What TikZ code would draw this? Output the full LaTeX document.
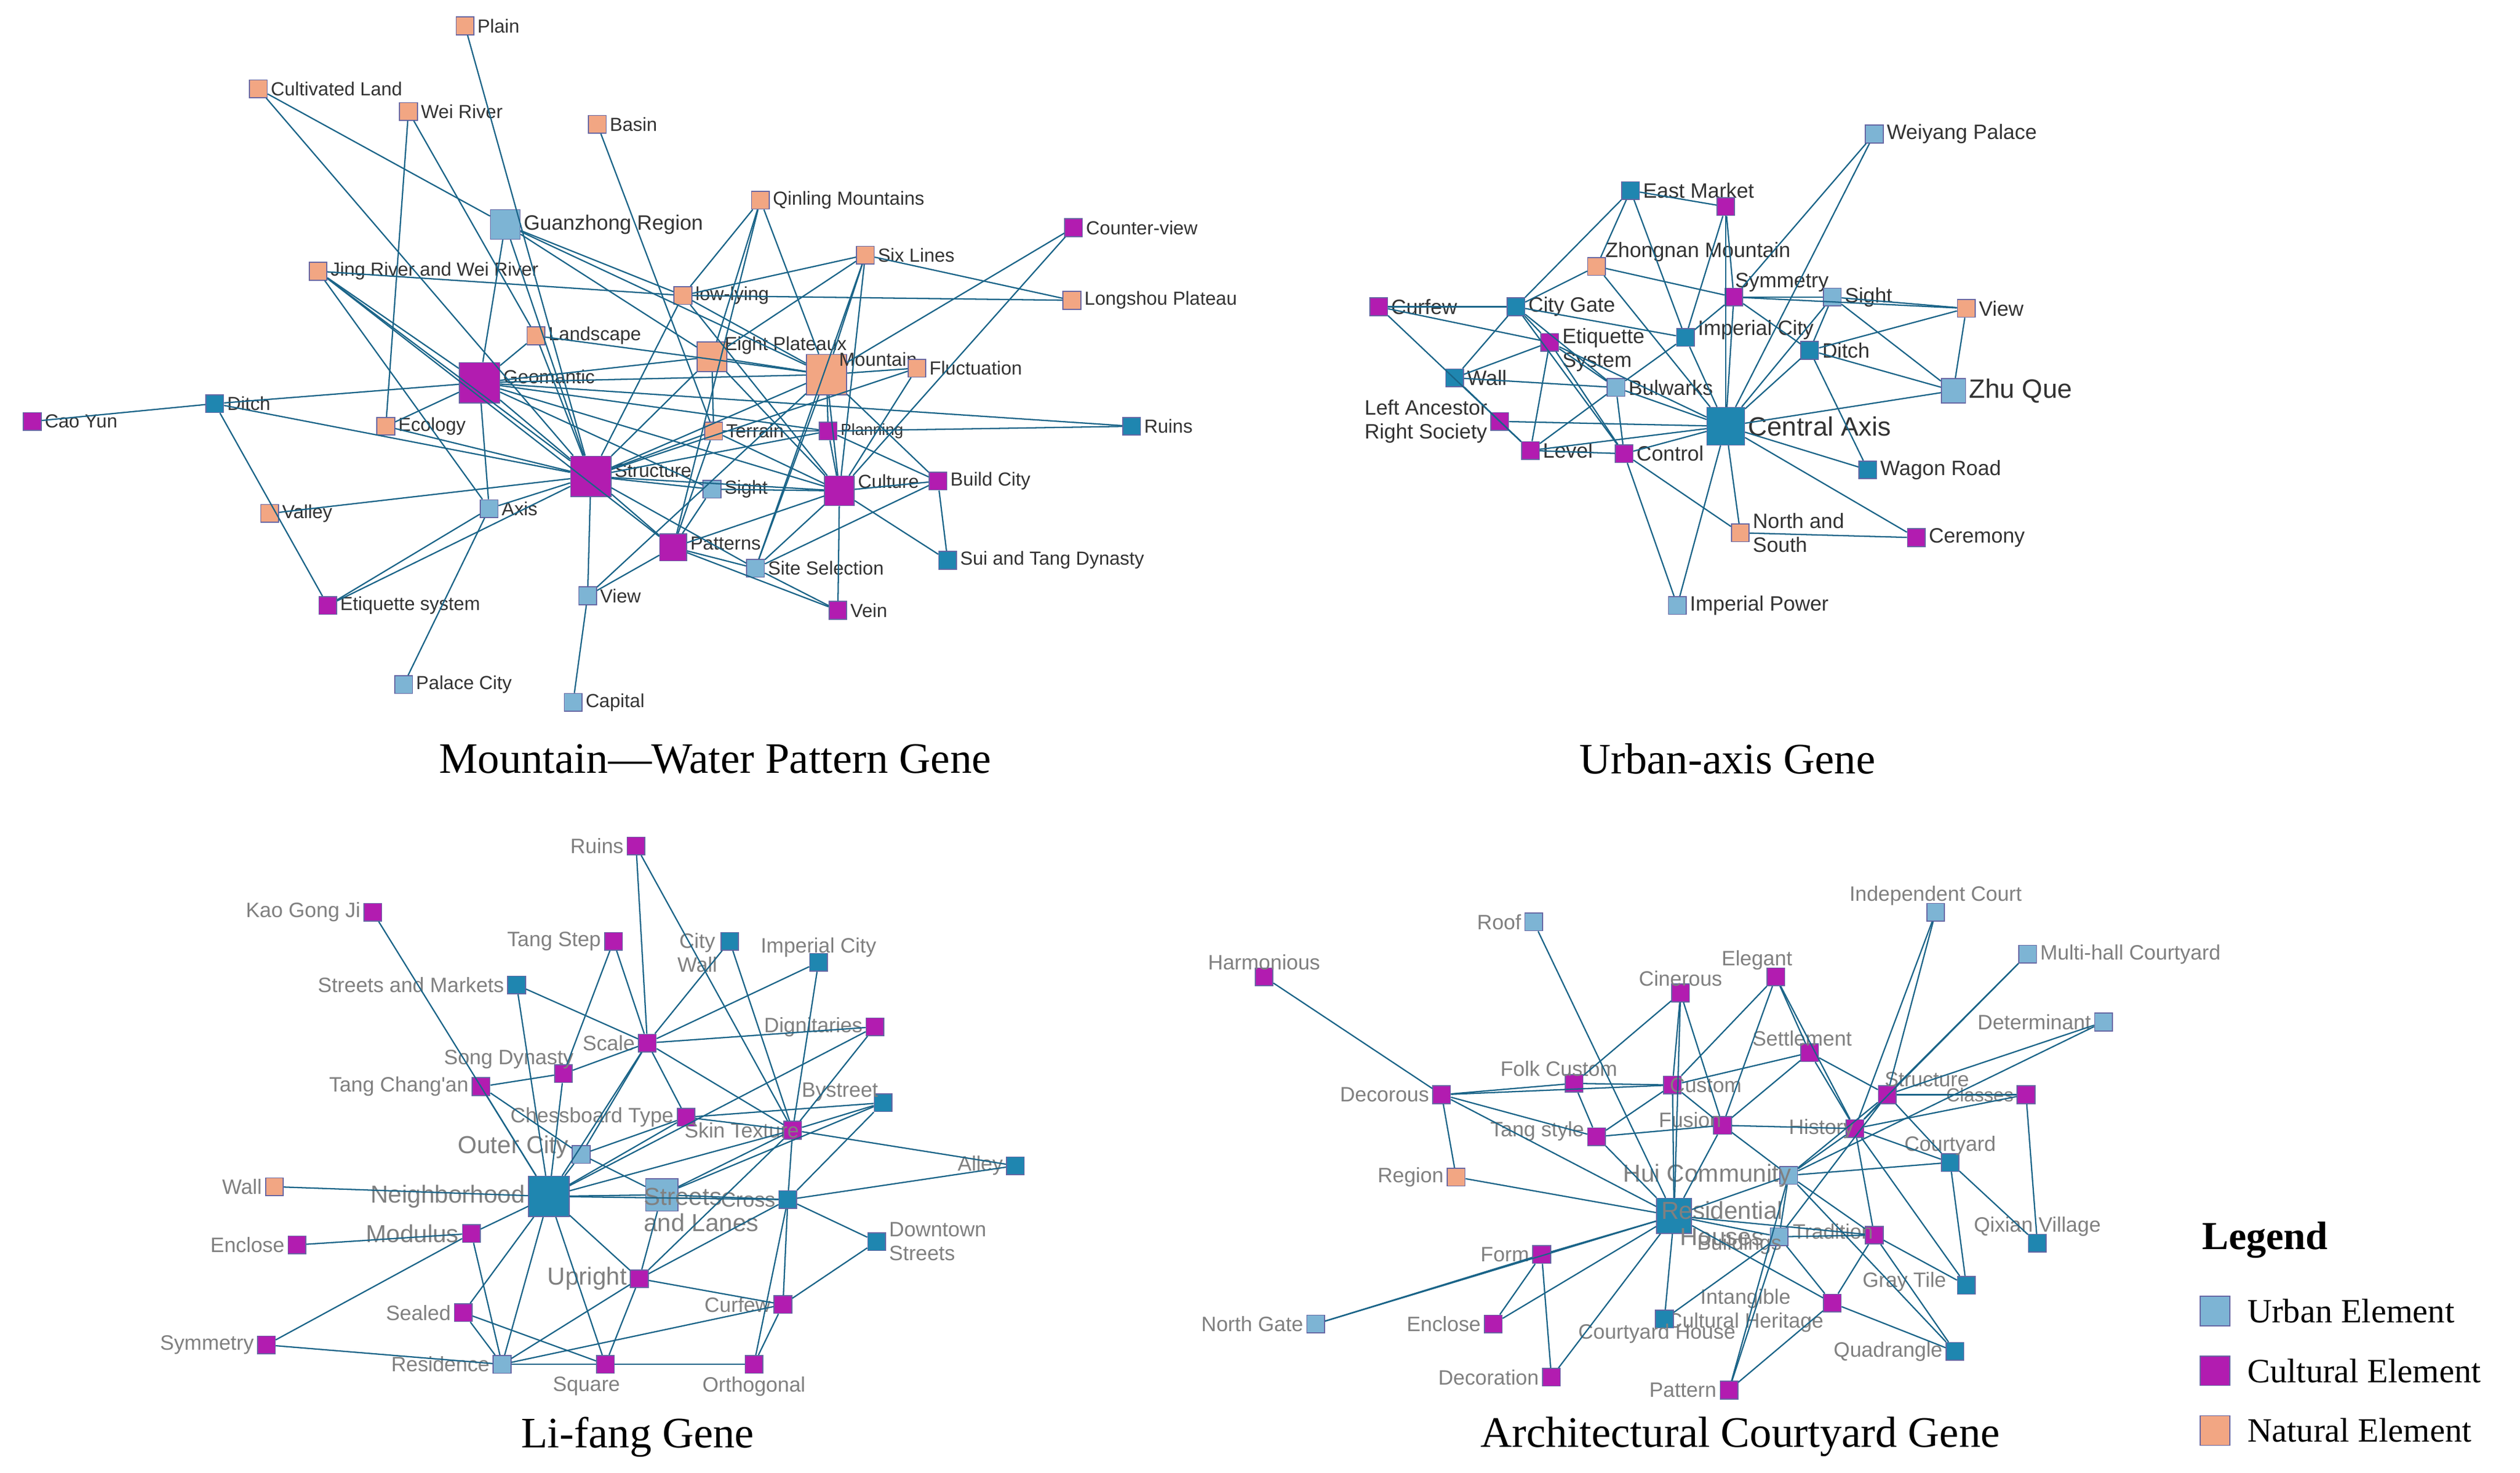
\documentclass[tikz,border=0pt]{standalone}
\usepackage{fontspec}
\setmainfont{Liberation Serif}
\newfontfamily\lab{Liberation Sans}
\begin{document}
\begin{tikzpicture}[x=0.03cm,y=-0.03cm,
 nd/.style={rectangle,draw=black!60!blue!60,line width=0.5pt,minimum size=0.33cm,inner sep=0pt},
 u/.style={nd,fill=ulight}, ud/.style={nd,fill=udark}, c/.style={nd,fill=cult}, n/.style={nd,fill=nat},
 big/.style={minimum size=0.6cm}, huge/.style={minimum size=0.75cm},
 lb/.style={font=\lab\fontsize{10}{11}\selectfont,inner sep=1.5pt,text=black!80,align=left},
 lg/.style={font=\lab\fontsize{11}{12.5}\selectfont,inner sep=1.5pt,text=black!50,align=left},
 ed/.style={draw=edgec,line width=0.7pt},
 ttl/.style={font=\fontsize{23}{26}\selectfont}]
\definecolor{ulight}{HTML}{7DB4D4}
\definecolor{udark}{HTML}{1F86B0}
\definecolor{cult}{HTML}{B21CB0}
\definecolor{nat}{HTML}{F2A683}
\definecolor{edgec}{HTML}{1A6488}
\useasboundingbox (0,0) rectangle (1561,912);
\fill[white] (0,0) rectangle (1561,912);
% ---------- Panel 1
\begin{scope}[every label/.style={lb}]
\node[n,label=right:Plain] (pl) at (288,16) {};
\node[n,label=right:Cultivated Land] (cl) at (160,55) {};
\node[n,label=right:Wei River] (wr) at (253,69) {};
\node[n,label=right:Basin] (ba) at (370,77) {};
\node[u,minimum size=0.55cm,label={[lb,font=\lab\fontsize{11}{12}\selectfont]right:Guanzhong Region}] (gz) at (313,139) {};
\node[n,label=right:Qinling Mountains] (qm) at (471,124) {};
\node[c,label=right:Counter-view] (cv) at (665,141) {};
\node[n,label=right:Six Lines] (sl) at (536,158) {};
\node[n,label=right:Longshou Plateau] (lp) at (664,186) {};
\node[n,label=right:Jing River and Wei River] (jw) at (197,168) {};
\node[n,label=right:low-lying] (ll) at (423,183) {};
\node[n,label=right:Landscape] (la) at (332,208) {};
\node[n,minimum size=0.55cm,label={[lb,yshift=6pt,xshift=-3pt]right:Eight Plateaux}] (ep) at (441,221) {};
\node[n,huge,label={[lb,yshift=8pt,xshift=-6pt]right:Mountain}] (mo) at (512,232) {};
\node[n,label=right:Fluctuation] (fl) at (568,228) {};
\node[c,huge,label={[lb,yshift=3pt]right:Geomantic}] (ge) at (297,237) {};
\node[ud,label=right:Ditch] (di) at (133,250) {};
\node[c,label=right:Cao Yun] (cy) at (20,261) {};
\node[n,label=right:Ecology] (ec) at (239,264) {};
\node[n,label=right:Terrain] (te) at (442,267) {};
\node[c,label={[lb,font=\lab\fontsize{8.5}{10}\selectfont]right:Planning}] (pn) at (513,267) {};
\node[ud,label=right:Ruins] (ru) at (701,264) {};
\node[c,huge,label={[lb,yshift=3pt]right:Structure}] (st) at (366,295) {};
\node[c,minimum size=0.55cm,label={[lb,yshift=5pt]right:Culture}] (cu) at (520,304) {};
\node[c,label=right:Build City] (bc) at (581,298) {};
\node[u,label=right:Sight] (si) at (441,303) {};
\node[u,label=right:Axis] (ax) at (303,315) {};
\node[n,label=right:Valley] (va) at (167,318) {};
\node[c,minimum size=0.5cm,label={[lb,yshift=2pt]right:Patterns}] (pa) at (417,339) {};
\node[u,label=right:Site Selection] (ss) at (468,352) {};
\node[ud,label=right:Sui and Tang Dynasty] (stt) at (587,347) {};
\node[u,label=right:View] (vi) at (364,369) {};
\node[c,label=right:Etiquette system] (es) at (203,375) {};
\node[c,label=right:Vein] (ve) at (519,378) {};
\node[u,label=right:Palace City] (pc) at (250,424) {};
\node[u,label=right:Capital] (ca) at (355,435) {};
\end{scope}
\foreach \a/\b in {pl/st,cl/gz,cl/st,wr/la,wr/ec,ba/te,gz/ge,gz/st,gz/mo,gz/ep,gz/ll,qm/ll,qm/ep,qm/mo,qm/pa,cv/mo,cv/cu,sl/mo,sl/ep,sl/ll,sl/lp,sl/cu,sl/ss,lp/ll,jw/ge,jw/st,jw/ll,jw/ax,jw/pa,ll/mo,ll/st,ll/cu,la/ge,la/mo,la/st,ep/mo,ep/ge,ep/st,ep/cu,ep/te,mo/ge,mo/st,mo/cu,mo/fl,mo/pn,mo/bc,mo/ss,ru/ge,ru/pn,fl/st,fl/cu,ge/di,ge/st,ge/ax,ge/cu,ge/pn,ge/ec,ge/si,di/cy,di/st,di/es,ec/st,te/st,te/pa,pn/st,pn/cu,pn/bc,st/cu,st/pa,st/si,st/ax,st/va,st/vi,st/es,st/ss,cu/bc,cu/pa,cu/ve,cu/ss,cu/stt,cu/si,bc/stt,bc/ss,si/pa,ax/pc,ax/es,pa/ve,pa/ss,pa/vi,vi/ca,vi/mo,ss/ve,te/cu,te/pn}
  \draw[ed] (\a) -- (\b);
\node[ttl] (t1) at (443,470) {Mountain—Water Pattern Gene};
% ---------- Panel 2
\begin{scope}[every label/.style={lg,text=black!80}]
\node[u,label=right:Weiyang Palace] (wp) at (1161,83) {};
\node[ud,label=right:East Market] (em) at (1010,118) {};
\node[c] (mg) at (1069,128) {};
\node[n,label={[lg,text=black!80,xshift=-2pt,yshift=-4pt]above right:Zhongnan Mountain}] (zm) at (989,165) {};
\node[c,label={[lg,text=black!80,xshift=-6pt,yshift=-4pt]above right:Symmetry}] (sy) at (1074,184) {};
\node[c,label=right:Curfew] (cf) at (854,190) {};
\node[ud,label=right:City Gate] (cg) at (939,190) {};
\node[u,label=right:Sight] (sg) at (1135,184) {};
\node[n,label=right:View] (vw) at (1218,191) {};
\node[c,label={[lg,text=black!80,yshift=-4pt]right:Etiquette\\System}] (et) at (960,212) {};
\node[ud,label={[lg,text=black!80,yshift=4pt]right:Imperial City}] (ic) at (1044,209) {};
\node[ud,label=right:Ditch] (dt) at (1121,217) {};
\node[ud,label=right:Wall] (wl) at (901,234) {};
\node[u,label=right:Bulwarks] (bw) at (1001,240) {};
\node[u,minimum size=0.45cm,label={[lg,text=black!80,font=\lab\fontsize{14}{15}\selectfont]right:Zhu Que}] (zq) at (1210,242) {};
\node[c,label={[lg,text=black!80]left:Left Ancestor\\Right Society}] (la2) at (929,261) {};
\node[ud,minimum size=0.7cm,label={[lg,text=black!80,font=\lab\fontsize{14}{15}\selectfont]right:Central Axis}] (ca2) at (1069,264) {};
\node[c,label=right:Level] (lv) at (948,279) {};
\node[c,label=right:Control] (co) at (1006,281) {};
\node[ud,label=right:Wagon Road] (wg) at (1157,291) {};
\node[n,label=right:North and\\South] (ns) at (1078,330) {};
\node[c,label=right:Ceremony] (ce) at (1187,333) {};
\node[u,label=right:Imperial Power] (ip) at (1039,375) {};
\end{scope}
\foreach \a/\b in {wp/ca2,wp/sy,em/mg,em/cg,em/ic,em/zm,mg/sy,mg/ca2,mg/ic,zm/sy,zm/cg,zm/ca2,sy/sg,sy/ic,sy/ca2,sy/dt,sy/vw,cf/cg,cf/et,cf/lv,cg/wl,cg/bw,cg/et,cg/ic,cg/co,sg/vw,sg/dt,sg/zq,sg/ca2,vw/zq,vw/dt,et/bw,et/lv,et/co,et/ca2,et/wl,ic/ca2,ic/bw,dt/ca2,dt/zq,dt/wg,wl/bw,wl/lv,bw/ca2,bw/co,la2/lv,la2/ca2,ca2/lv,ca2/co,ca2/wg,ca2/ns,ca2/ce,ca2/ip,ca2/zq,co/ns,co/lv,ns/ce,lv/bw,ip/co}
  \draw[ed] (\a) -- (\b);
\node[ttl] (t2) at (1070,470) {Urban-axis Gene};
% ---------- Panel 3
\begin{scope}[every label/.style={lg}]
\node[c,label=left:Ruins] (r3) at (394,524) {};
\node[c,label=left:Kao Gong Ji] (kg) at (231,565) {};
\node[c,label=left:Tang Step] (ts) at (380,583) {};
\node[ud,label={[lg,align=center,yshift=-6pt]left:City\\Wall}] (cw) at (452,583) {};
\node[ud,label={[lg,yshift=-4pt]above:Imperial City}] (ic3) at (507,596) {};
\node[ud,label=left:Streets and Markets] (sm) at (320,610) {};
\node[c,label=left:Dignitaries] (dg) at (542,636) {};
\node[c,label=left:Scale] (sc) at (401,646) {};
\node[c,label={[lg,xshift=12pt,yshift=-4pt]above left:Song Dynasty}] (sd) at (349,665) {};
\node[c,label=left:Tang Chang'an] (tc) at (298,673) {};
\node[ud,label={[lg,xshift=4pt,yshift=-6pt]above left:Bystreet}] (bs) at (547,683) {};
\node[c,label=left:Chessboard Type] (ch) at (425,692) {};
\node[c,label={[lg,xshift=10pt]left:Skin Texture}] (sk) at (491,700) {};
\node[u,label={[lg,font=\lab\fontsize{13}{14}\selectfont,yshift=4pt]left:Outer City}] (oc) at (360,715) {};
\node[ud,label=left:Alley] (al) at (629,722) {};
\node[n,label=left:Wall] (w3) at (170,735) {};
\node[ud,minimum size=0.75cm,label={[lg,font=\lab\fontsize{13}{14}\selectfont]left:Neighborhood}] (nb) at (340,741) {};
\node[u,minimum size=0.6cm,label={[lg,font=\lab\fontsize{13}{14}\selectfont,xshift=-20pt,yshift=-8pt]right:Streets\\and Lanes}] (sl3) at (410,740) {};
\node[ud,label=left:Cross] (cr) at (488,743) {};
\node[c,label={[lg,font=\lab\fontsize{13}{14}\selectfont]left:Modulus}] (md) at (292,764) {};
\node[ud,label=right:Downtown\\Streets] (ds) at (543,769) {};
\node[c,label=left:Enclose] (en3) at (184,771) {};
\node[c,label={[lg,font=\lab\fontsize{13}{14}\selectfont]left:Upright}] (up) at (396,792) {};
\node[c,label=left:Sealed] (se) at (287,813) {};
\node[c,label=left:Curfew] (cf3) at (485,808) {};
\node[c,label=left:Symmetry] (sy3) at (165,833) {};
\node[u,label=left:Residence] (rs) at (311,845) {};
\node[c,label={[lg,xshift=-10pt]below:Square}] (sq) at (375,845) {};
\node[c,label=below:Orthogonal] (or) at (467,845) {};
\end{scope}
\foreach \a/\b in {r3/sk,r3/sc,kg/nb,ts/sc,ts/sd,cw/sc,cw/sk,ic3/sk,ic3/sc,sm/nb,sm/sc,dg/sk,dg/sc,sc/sd,sc/ch,sc/nb,sc/oc,sd/nb,sd/tc,tc/nb,tc/oc,bs/sk,bs/cr,bs/sl3,ch/nb,ch/sk,ch/oc,sk/cr,sk/sl3,sk/nb,sk/up,oc/nb,oc/sl3,al/cr,al/sk,w3/nb,nb/sl3,nb/md,nb/up,nb/rs,nb/se,nb/sq,nb/cr,sl3/cr,sl3/up,cr/ds,cr/cf3,cr/or,cr/up,md/en3,md/rs,md/sy3,ds/cf3,up/rs,up/sq,up/cf3,se/rs,se/sq,sy3/rs,rs/sq,sq/or,cf3/or,cf3/rs,ch/bs,dg/nb,sc/sk}
  \draw[ed] (\a) -- (\b);
\node[ttl] (t3) at (395,890) {Li-fang Gene};
% ---------- Panel 4
\begin{scope}[every label/.style={lg}]
\node[u,label={[lg,yshift=-3pt]above:Independent Court}] (icrt) at (1199,565) {};
\node[u,label=left:Roof] (rf) at (950,571) {};
\node[u,label=right:Multi-hall Courtyard] (mh) at (1256,591) {};
\node[c,label={[lg,yshift=-3pt]above:Harmonious}] (hm) at (783,605) {};
\node[c,label={[lg,xshift=-10pt,yshift=-3pt]above:Elegant}] (el) at (1100,605) {};
\node[c,label={[lg,yshift=-3pt]above:Cinerous}] (ci) at (1041,615) {};
\node[u,label=left:Determinant] (dm) at (1303,633) {};
\node[c,label={[lg,xshift=-4pt,yshift=-3pt]above:Settlement}] (st4) at (1121,652) {};
\node[c,label={[lg,xshift=-8pt,yshift=-3pt]above:Folk Custom}] (fc) at (975,671) {};
\node[c,label={[lg,xshift=-8pt]right:Custom}] (cs) at (1036,672) {};
\node[c,label=left:Decorous] (dc) at (893,678) {};
\node[c,label={[lg,xshift=-8pt,yshift=8pt]right:Structure}] (str) at (1169,678) {};
\node[c,label={[lg,font=\lab\fontsize{10}{11}\selectfont]left:Classes}] (cl4) at (1255,678) {};
\node[c,label={[lg,yshift=3pt]left:Tang style}] (tsy) at (989,704) {};
\node[c,label={[lg,xshift=6pt,yshift=3pt]left:Fusion}] (fu) at (1067,697) {};
\node[c,label={[lg,xshift=6pt]left:History}] (hi) at (1149,699) {};
\node[u,label={[lg,font=\lab\fontsize{13}{14}\selectfont,xshift=8pt]left:Hui Community}] (hc) at (1108,728) {};
\node[ud,label={[lg,yshift=-3pt]above:Courtyard}] (cy4) at (1208,720) {};
\node[n,label=left:Region] (rg) at (902,729) {};
\node[ud,minimum size=0.65cm,label={[lg,font=\lab\fontsize{13}{14}\selectfont,align=center,xshift=-18pt,yshift=-4pt]right:Residential\\Houses}] (rh) at (1037,753) {};
\node[ud,label={[lg,yshift=-3pt]above:Qixian Village}] (qv) at (1262,770) {};
\node[u,label={[lg,xshift=8pt,yshift=-4pt]left:Buildings}] (bd) at (1102,766) {};
\node[c,label={[lg,xshift=6pt,yshift=2pt]left:Tradition}] (tr) at (1161,765) {};
\node[c,label=left:Form] (fm) at (955,777) {};
\node[ud,label={[lg,xshift=-4pt,yshift=-10pt]above left:Gray Tile}] (gt) at (1218,796) {};
\node[c,label={[lg,align=center,yshift=-4pt,xshift=2pt]left:Intangible\\Cultural Heritage}] (ich) at (1135,807) {};
\node[u,label=left:North Gate] (ng) at (815,820) {};
\node[c,label=left:Enclose] (en4) at (925,820) {};
\node[ud,label={[lg,yshift=4pt,xshift=-4pt]below:Courtyard House}] (ch4) at (1031,817) {};
\node[ud,label=left:Quadrangle] (qd) at (1211,837) {};
\node[c,label=left:Decoration] (dec) at (961,853) {};
\node[c,label=left:Pattern] (pt) at (1071,861) {};
\end{scope}
\foreach \a/\b in {icrt/hi,icrt/str,rf/rh,mh/hi,mh/str,hm/dc,el/cs,el/fu,el/st4,el/hi,ci/cs,ci/fc,ci/rh,ci/fu,dm/str,dm/hc,st4/str,st4/fu,st4/hi,st4/cs,fc/dc,fc/cs,fc/tsy,cs/fu,cs/rh,cs/dc,cs/tsy,dc/rh,dc/tsy,str/hi,str/cl4,str/cy4,str/hc,str/bd,cl4/hi,cl4/qv,tsy/rh,tsy/fu,fu/hi,fu/hc,fu/rh,hi/hc,hi/tr,hi/cy4,hc/rh,hc/bd,hc/cy4,hc/tr,cy4/qv,cy4/gt,rg/rh,rg/dc,rh/bd,rh/fm,rh/en4,rh/ch4,rh/ng,rh/ich,rh/tr,bd/tr,bd/ich,bd/pt,tr/gt,tr/qd,tr/ich,fm/en4,fm/ng,ich/pt,ich/qd,ch4/bd,dec/rh,dec/fm,pt/hc,gt/hi,qd/hc}
  \draw[ed] (\a) -- (\b);
\node[ttl] (t4) at (1078,890) {Architectural Courtyard Gene};
% ---------- Legend
\node[anchor=west,font=\bfseries\fontsize{21}{23}\selectfont] (lgt) at (1360,768) {Legend};
\node[u,minimum size=0.55cm] (l1) at (1372,812) {};
\node[anchor=west,font=\fontsize{18}{20}\selectfont] (l1t) at (1388,812) {Urban Element};
\node[c,minimum size=0.55cm] (l2) at (1372,849) {};
\node[anchor=west,font=\fontsize{18}{20}\selectfont] (l2t) at (1388,849) {Cultural Element};
\node[n,minimum size=0.55cm] (l3) at (1372,886) {};
\node[anchor=west,font=\fontsize{18}{20}\selectfont] (l3t) at (1388,886) {Natural Element};
\end{tikzpicture}
\end{document}
